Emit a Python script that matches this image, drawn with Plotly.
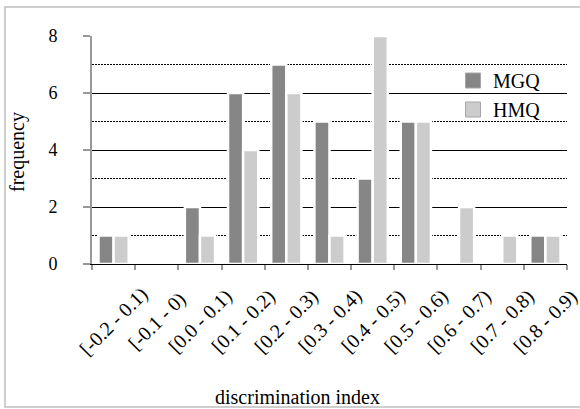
import plotly.graph_objects as go

categories = ["[-0.2 - 0.1)", "[-0.1 - 0)", "[0.0 - 0.1)", "[0.1 - 0.2)", "[0.2 - 0.3)",
              "[0.3 - 0.4)", "[0.4 - 0.5)", "[0.5 - 0.6)", "[0.6 - 0.7)", "[0.7 - 0.8)", "[0.8 - 0.9)"]
mgq = [1, 0, 2, 6, 7, 5, 3, 5, 0, 0, 1]
hmq = [1, 0, 1, 4, 6, 1, 8, 5, 2, 1, 1]
y_ticks = [0, 2, 4, 6, 8]

FONT = "Liberation Serif"
C_MGQ, C_HMQ = "#868686", "#cccccc"

W, H = 580, 409
L, R, T, B = 92, 13, 36, 145
pw, ph = W - L - R, H - T - B

def px_x(x):
    return (x - L) / pw

def px_y(y):
    return (H - B - y) / ph

fig = go.Figure()
fig.add_trace(go.Bar(name="MGQ", x=categories, y=mgq, showlegend=False,
                     marker=dict(color=C_MGQ, line=dict(color="white", width=2.5))))
fig.add_trace(go.Bar(name="HMQ", x=categories, y=hmq, showlegend=False,
                     marker=dict(color=C_HMQ, line=dict(color="white", width=2.5))))
# legend entries with larger square swatches
for name, col in (("MGQ", C_MGQ), ("HMQ", C_HMQ)):
    fig.add_trace(go.Scatter(name=name, x=[None], y=[None], mode="markers",
                             marker=dict(symbol="square", size=15, color=col,
                                         line=dict(color="#a6a6a6", width=1))))

annotations = []
for c in categories:
    annotations.append(dict(x=c, xref="x", y=px_y(321), yref="paper", text=c, showarrow=False,
                            textangle=-45, xanchor="center", yanchor="middle",
                            font=dict(family=FONT, size=20, color="black")))
annotations.append(dict(x=px_x(297), xref="paper", y=px_y(397), yref="paper",
                        text="discrimination index", showarrow=False,
                        xanchor="center", yanchor="middle",
                        font=dict(family=FONT, size=20, color="black")))
annotations.append(dict(x=px_x(17), xref="paper", y=px_y(152), yref="paper",
                        text="frequency", showarrow=False, textangle=-90,
                        xanchor="center", yanchor="middle",
                        font=dict(family=FONT, size=20, color="black")))

fig.update_layout(
    width=W, height=H,
    margin=dict(l=L, r=R, t=T, b=B),
    paper_bgcolor="white", plot_bgcolor="white",
    barmode="group", bargap=0.3, bargroupgap=0,
    font=dict(family=FONT, size=18, color="black"),
    legend=dict(x=px_x(453), y=px_y(61), xanchor="left", yanchor="top",
                bgcolor="rgba(0,0,0,0)", font=dict(family=FONT, size=20, color="black"),
                tracegroupgap=0),
    annotations=annotations,
    shapes=[dict(type="rect", xref="paper", yref="paper",
                 x0=px_x(5), x1=px_x(620), y0=px_y(407), y1=px_y(7),
                 line=dict(color="#bfbfbf", width=1.5), layer="below")],
)

fig.update_xaxes(
    type="category", range=[-0.5, len(categories) - 0.5], autorange=False,
    showticklabels=False, showgrid=False,
    showline=True, linecolor="black", linewidth=1.2,
    ticks="outside", tickson="boundaries", ticklen=5, tickwidth=2, tickcolor="#999999",
)
fig.update_yaxes(
    range=[0, 8], autorange=False, tickvals=y_ticks, showgrid=True, gridcolor="black", gridwidth=1,
    zeroline=False, showline=True, linecolor="#999999", linewidth=2,
    ticks="outside", ticklen=7, tickwidth=2, tickcolor="#999999",
    ticklabelstandoff=22, tickfont=dict(family=FONT, size=18, color="black"),
    minor=dict(dtick=1, showgrid=True, gridcolor="black", gridwidth=1, griddash="2px,1px"),
)

fig.write_html("out.html", config={"displayModeBar": False},
               post_script="document.body.style.margin='0';")
